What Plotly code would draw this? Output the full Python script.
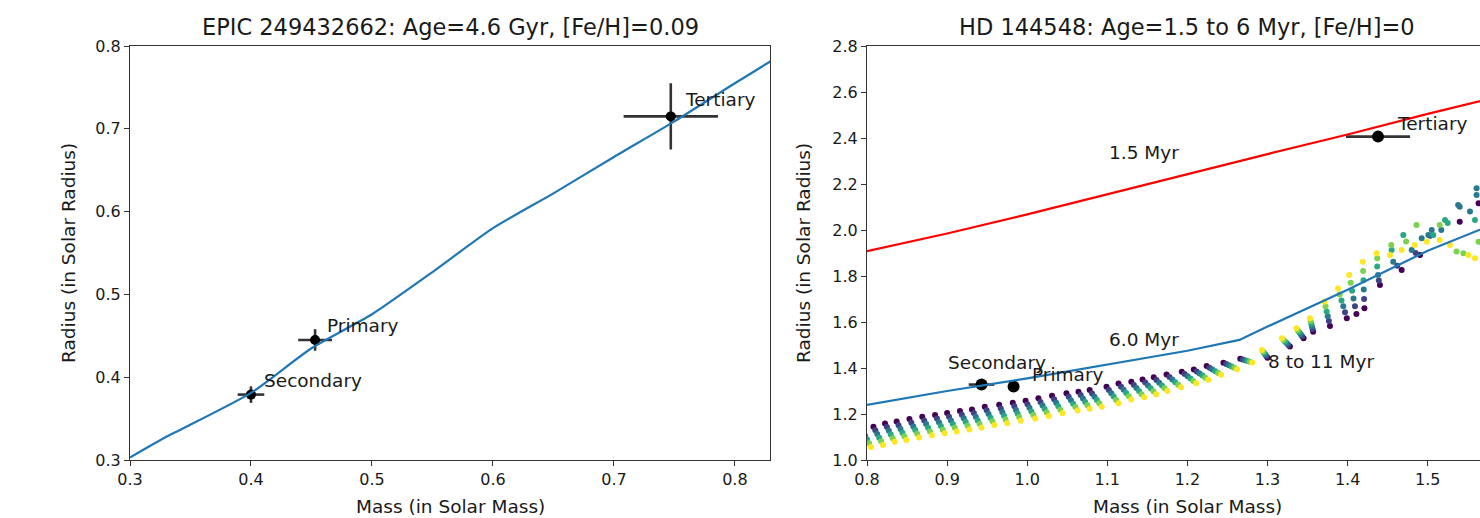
import plotly.graph_objects as go

# ---------------- EPIC 249432662 (left panel) ----------------
epic_iso_mass = [0.30, 0.33, 0.345, 0.40, 0.45, 0.50, 0.55, 0.60, 0.65, 0.70, 0.75, 0.80, 0.83]
epic_iso_radius = [0.303, 0.328, 0.339, 0.381, 0.435, 0.476, 0.527, 0.580, 0.622, 0.666, 0.709, 0.755, 0.782]

epic_names = ["Secondary", "Primary", "Tertiary"]
epic_mass = [0.400, 0.453, 0.747]
epic_mass_err = [0.011, 0.014, 0.039]
epic_radius = [0.379, 0.445, 0.715]
epic_radius_err = [0.010, 0.013, 0.040]
epic_label_x = [0.409, 0.461, 0.757]
epic_label_y = [0.396, 0.462, 0.735]

# ---------------- HD 144548 (right panel) ----------------
iso_15_mass = [0.8, 0.9, 1.0, 1.1, 1.2, 1.3, 1.4, 1.5, 1.6]
iso_15_radius = [1.908, 1.985, 2.068, 2.155, 2.245, 2.330, 2.415, 2.505, 2.590]

iso_60_mass = [0.8, 0.9, 1.0, 1.1, 1.2, 1.265, 1.3, 1.4, 1.5, 1.6]
iso_60_radius = [1.240, 1.300, 1.355, 1.415, 1.475, 1.522, 1.580, 1.740, 1.910, 2.050]

hd_names = ["Secondary", "Primary", "Tertiary"]
hd_mass = [0.943, 0.983, 1.438]
hd_mass_err = [0.016, 0.0, 0.040]
hd_radius = [1.328, 1.320, 2.406]
hd_radius_err = [0.010, 0.010, 0.020]
hd_label_x = [0.899, 1.004, 1.459]
hd_label_y = [1.426, 1.370, 2.465]

iso_labels = ["1.5 Myr", "6.0 Myr", "8 to 11 Myr"]
iso_label_x = [1.10, 1.10, 1.298]
iso_label_y = [2.335, 1.526, 1.430]

# Model grid points between 8 and 11 Myr, one list pair per age (Myr)
grid_ages = [8.0, 8.6, 9.2, 9.8, 10.4, 11.0]

m_8_0 = [0.793, 0.808, 0.8225, 0.837, 0.853, 0.869, 0.885, 0.900, 0.916, 0.931, 0.947, 0.965, 0.982, 0.998,
         1.014, 1.031, 1.049, 1.064, 1.078, 1.099, 1.114, 1.130, 1.144, 1.158, 1.174, 1.193, 1.208, 1.224,
         1.245, 1.266, 1.300, 1.328, 1.345, 1.357, 1.378, 1.399, 1.411, 1.421, 1.4404,
         1.4675, 1.4904, 1.540, 1.5635]
r_8_0 = [1.137, 1.145, 1.159, 1.167, 1.178, 1.188, 1.196, 1.204, 1.213, 1.220, 1.232, 1.240, 1.249, 1.258,
         1.268, 1.279, 1.290, 1.297, 1.304, 1.319, 1.333, 1.340, 1.350, 1.360, 1.372, 1.384, 1.394, 1.409,
         1.423, 1.440, 1.445, 1.493, 1.529, 1.558, 1.583, 1.616, 1.635, 1.660, 1.761,
         1.826, 1.891, 2.036, 2.116]

m_8_6 = [0.7954, 0.8104, 0.8249, 0.8394, 0.8554, 0.8714, 0.8874, 0.9024, 0.9184, 0.9334, 0.9494, 0.967, 0.984,
         1.0004, 1.0166, 1.0336, 1.0518, 1.0668, 1.081, 1.102, 1.1172, 1.1332, 1.1474, 1.1614, 1.1776, 1.1966,
         1.2116, 1.2276, 1.2484, 1.269, 1.2986, 1.326, 1.3432, 1.3562, 1.3766, 1.3968, 1.4092, 1.4206, 1.439,
         1.462, 1.485, 1.503]
r_8_6 = [1.121, 1.129, 1.143, 1.151, 1.162, 1.172, 1.180, 1.188, 1.197, 1.204, 1.216, 1.224, 1.2334,
         1.2424, 1.2526, 1.2638, 1.275, 1.2822, 1.2896, 1.3046, 1.319, 1.3266, 1.3372, 1.348, 1.3608, 1.374,
         1.385, 1.4014, 1.4174, 1.4368, 1.4516, 1.5002, 1.5378, 1.5696, 1.604, 1.642, 1.6688, 1.7004, 1.780,
         1.845, 1.900, 1.975]

m_9_2 = [0.7978, 0.8128, 0.8273, 0.8418, 0.8578, 0.8738, 0.8898, 0.9048, 0.9208, 0.9358, 0.9518, 0.969, 0.986,
         1.0028, 1.0192, 1.0362, 1.0546, 1.0696, 1.084, 1.105, 1.1204, 1.1364, 1.1508, 1.1648, 1.1812, 1.2002,
         1.2152, 1.2312, 1.2518, 1.272, 1.2972, 1.324, 1.3414, 1.3554, 1.3752, 1.3946, 1.4074, 1.4202, 1.438,
         1.457, 1.480, 1.4925, 1.5008, 1.505, 1.517, 1.538, 1.540, 1.5528, 1.561, 1.561]
r_9_2 = [1.105, 1.113, 1.127, 1.135, 1.146, 1.156, 1.164, 1.172, 1.181, 1.188, 1.200, 1.208, 1.2178,
         1.2268, 1.2372, 1.2486, 1.260, 1.2674, 1.2752, 1.2902, 1.305, 1.3132, 1.3244, 1.336, 1.3496, 1.364,
         1.376, 1.3938, 1.4118, 1.4336, 1.4582, 1.5074, 1.5466, 1.5812, 1.625, 1.668, 1.7026, 1.7408, 1.804,
         1.862, 1.913, 1.964, 1.978, 2.000, 2.000, 2.109, 2.101, 2.080, 2.181, 2.152]

m_9_8 = [0.8002, 0.8152, 0.8297, 0.8442, 0.8602, 0.8762, 0.8922, 0.9072, 0.9232, 0.9382, 0.9542, 0.971, 0.988,
         1.0052, 1.0218, 1.0388, 1.0574, 1.0724, 1.087, 1.108, 1.1236, 1.1396, 1.1542, 1.1682, 1.1848, 1.2038,
         1.2188, 1.2348, 1.2552, 1.275, 1.2958, 1.322, 1.3396, 1.3546, 1.3738, 1.3924, 1.4056, 1.4198, 1.437,
         1.455, 1.4696, 1.507, 1.5216, 1.525, 1.559]
r_9_8 = [1.089, 1.097, 1.111, 1.119, 1.130, 1.140, 1.148, 1.156, 1.165, 1.172, 1.184, 1.192, 1.2022,
         1.2112, 1.2218, 1.2334, 1.245, 1.2526, 1.2608, 1.2758, 1.291, 1.2998, 1.3116, 1.324, 1.3384, 1.354,
         1.367, 1.3862, 1.4062, 1.4304, 1.4648, 1.5146, 1.5554, 1.5928, 1.646, 1.694, 1.7364, 1.7812, 1.841,
         1.913, 1.978, 1.978, 2.043, 2.030, 2.043]

m_10_4 = [0.8026, 0.8176, 0.8321, 0.8466, 0.8626, 0.8786, 0.8946, 0.9096, 0.9256, 0.9406, 0.9566, 0.973, 0.990,
          1.0076, 1.0244, 1.0414, 1.0602, 1.0752, 1.090, 1.111, 1.1268, 1.1428, 1.1576, 1.1716, 1.1884, 1.2074,
          1.2224, 1.2384, 1.2586, 1.278, 1.2944, 1.320, 1.3378, 1.3538, 1.3724, 1.3902, 1.4038, 1.4194, 1.437,
          1.4545, 1.473, 1.486, 1.515, 1.536, 1.5445, 1.5635]
r_10_4 = [1.073, 1.081, 1.095, 1.103, 1.114, 1.124, 1.132, 1.140, 1.149, 1.156, 1.168, 1.176, 1.1866,
          1.1956, 1.2064, 1.2182, 1.230, 1.2378, 1.2464, 1.2614, 1.277, 1.2864, 1.2988, 1.312, 1.3272, 1.344,
          1.358, 1.3786, 1.4006, 1.4272, 1.4714, 1.5218, 1.5642, 1.6044, 1.667, 1.720, 1.7702, 1.8216, 1.877,
          1.935, 1.950, 2.022, 2.022, 1.906, 1.899, 1.949]

m_11_0 = [0.805, 0.820, 0.8345, 0.849, 0.865, 0.881, 0.897, 0.912, 0.928, 0.943, 0.959, 0.975, 0.992,
          1.010, 1.027, 1.044, 1.063, 1.078, 1.093, 1.114, 1.130, 1.146, 1.161, 1.175, 1.192, 1.211,
          1.226, 1.242, 1.262, 1.281, 1.293, 1.318, 1.336, 1.353, 1.371, 1.388, 1.402, 1.419, 1.4363,
          1.4529, 1.4675, 1.484, 1.4988, 1.515, 1.5278, 1.5507, 1.559]
r_11_0 = [1.057, 1.065, 1.079, 1.087, 1.098, 1.108, 1.116, 1.124, 1.133, 1.140, 1.152, 1.160, 1.171,
          1.180, 1.191, 1.203, 1.215, 1.223, 1.232, 1.247, 1.263, 1.273, 1.286, 1.300, 1.316, 1.334,
          1.349, 1.371, 1.395, 1.424, 1.478, 1.529, 1.573, 1.616, 1.688, 1.746, 1.804, 1.862, 1.899,
          1.891, 1.913, 1.935, 1.949, 1.957, 1.935, 1.891, 1.877]

grid_mass = [m_8_0, m_8_6, m_9_2, m_9_8, m_10_4, m_11_0]
grid_radius = [r_8_0, r_8_6, r_9_2, r_9_8, r_10_4, r_11_0]

FONT = "DejaVu Sans"
TEXT = "#1a1a1a"
C0 = "#1f77b4"
ERR = "#333333"
LABEL_SIZE = 18.5
TITLE_SIZE = 22.5
TICK_SIZE = 16

fig = go.Figure()

# Left panel: measured stars, then isochrone
fig.add_trace(go.Scatter(
    x=epic_mass, y=epic_radius, mode="markers", xaxis="x", yaxis="y",
    marker=dict(color="black", size=10),
    error_x=dict(type="data", array=epic_mass_err, color=ERR, thickness=2.6, width=0),
    error_y=dict(type="data", array=epic_radius_err, color=ERR, thickness=2.6, width=0),
))
fig.add_trace(go.Scatter(
    x=epic_iso_mass, y=epic_iso_radius, mode="lines", xaxis="x", yaxis="y",
    line=dict(color=C0, width=2.2, shape="spline", smoothing=0.6),
))

# Right panel: model grid coloured by age
for age, ms, rs in zip(grid_ages, grid_mass, grid_radius):
    fig.add_trace(go.Scatter(
        x=ms, y=rs, mode="markers", xaxis="x2", yaxis="y2",
        marker=dict(size=6, color=[age] * len(ms), colorscale="Viridis", cmin=8.0, cmax=11.0),
    ))

fig.add_trace(go.Scatter(
    x=hd_mass, y=hd_radius, mode="markers", xaxis="x2", yaxis="y2",
    marker=dict(color="black", size=12),
    error_x=dict(type="data", array=hd_mass_err, color=ERR, thickness=2.6, width=0),
    error_y=dict(type="data", array=hd_radius_err, color=ERR, thickness=2.6, width=0),
))
fig.add_trace(go.Scatter(
    x=iso_15_mass, y=iso_15_radius, mode="lines", xaxis="x2", yaxis="y2",
    line=dict(color="#ff0000", width=2.2),
))
fig.add_trace(go.Scatter(
    x=iso_60_mass, y=iso_60_radius, mode="lines", xaxis="x2", yaxis="y2",
    line=dict(color=C0, width=2.2),
))

annotations = []
for name, x, y in zip(epic_names, epic_label_x, epic_label_y):
    annotations.append(dict(x=x, y=y, xref="x", yref="y", text=name, showarrow=False,
                            xanchor="left", yanchor="middle", font=dict(size=LABEL_SIZE, color=TEXT)))
for name, x, y in zip(hd_names, hd_label_x, hd_label_y):
    annotations.append(dict(x=x, y=y, xref="x2", yref="y2", text=name, showarrow=False,
                            xanchor="left", yanchor="middle", font=dict(size=LABEL_SIZE, color=TEXT)))
for name, x, y in zip(iso_labels, iso_label_x, iso_label_y):
    annotations.append(dict(x=x, y=y, xref="x2", yref="y2", text=name, showarrow=False,
                            xanchor="left", yanchor="middle", font=dict(size=LABEL_SIZE, color=TEXT)))

W, H = 1480, 518
left_dom = [130 / W, 770 / W]
right_dom = [867 / W, 1.0]
y_dom = [(H - 460) / H, (H - 46) / H]

# Panel titles and axis labels
annotations += [
    dict(x=sum(left_dom) / 2, y=(H - 27) / H, xref="paper", yref="paper", showarrow=False,
         text="EPIC 249432662: Age=4.6 Gyr, [Fe/H]=0.09", font=dict(size=TITLE_SIZE, color=TEXT),
         xanchor="center", yanchor="middle"),
    dict(x=(867 + 320) / W, y=(H - 27) / H, xref="paper", yref="paper", showarrow=False,
         text="HD 144548: Age=1.5 to 6 Myr, [Fe/H]=0", font=dict(size=TITLE_SIZE, color=TEXT),
         xanchor="center", yanchor="middle"),
    dict(x=sum(left_dom) / 2, y=(H - 506) / H, xref="paper", yref="paper", showarrow=False,
         text="Mass (in Solar Mass)", font=dict(size=LABEL_SIZE, color=TEXT), xanchor="center", yanchor="middle"),
    dict(x=(867 + 320) / W, y=(H - 506) / H, xref="paper", yref="paper", showarrow=False,
         text="Mass (in Solar Mass)", font=dict(size=LABEL_SIZE, color=TEXT), xanchor="center", yanchor="middle"),
    dict(x=68 / W, y=sum(y_dom) / 2, xref="paper", yref="paper", showarrow=False, textangle=-90,
         text="Radius (in Solar Radius)", font=dict(size=LABEL_SIZE, color=TEXT), xanchor="center", yanchor="middle"),
    dict(x=803 / W, y=sum(y_dom) / 2, xref="paper", yref="paper", showarrow=False, textangle=-90,
         text="Radius (in Solar Radius)", font=dict(size=LABEL_SIZE, color=TEXT), xanchor="center", yanchor="middle"),
]

axis_style = dict(showline=True, mirror=True, linecolor="#333333", linewidth=1.2, showgrid=False,
                  zeroline=False, ticks="outside", ticklen=5, tickwidth=1.2, tickcolor="#333333",
                  tickfont=dict(size=TICK_SIZE, color=TEXT), tickformat=".1f", automargin=False)

fig.update_layout(
    width=W, height=H, margin=dict(l=0, r=0, t=0, b=0, autoexpand=False),
    paper_bgcolor="white", plot_bgcolor="white", showlegend=False,
    font=dict(family=FONT, color=TEXT),
    xaxis=dict(domain=left_dom, range=[0.3, 0.829], tickvals=[0.3, 0.4, 0.5, 0.6, 0.7, 0.8], anchor="y", **axis_style),
    yaxis=dict(domain=y_dom, range=[0.3, 0.8], tickvals=[0.3, 0.4, 0.5, 0.6, 0.7, 0.8], anchor="x", **axis_style),
    xaxis2=dict(domain=right_dom, range=[0.8, 1.5653], tickvals=[0.8, 0.9, 1.0, 1.1, 1.2, 1.3, 1.4, 1.5],
                anchor="y2", **axis_style),
    yaxis2=dict(domain=y_dom, range=[1.0, 2.8], tickvals=[1.0, 1.2, 1.4, 1.6, 1.8, 2.0, 2.2, 2.4, 2.6, 2.8],
                anchor="x2", **axis_style),
    annotations=annotations,
)

fig.write_html("out.html")
